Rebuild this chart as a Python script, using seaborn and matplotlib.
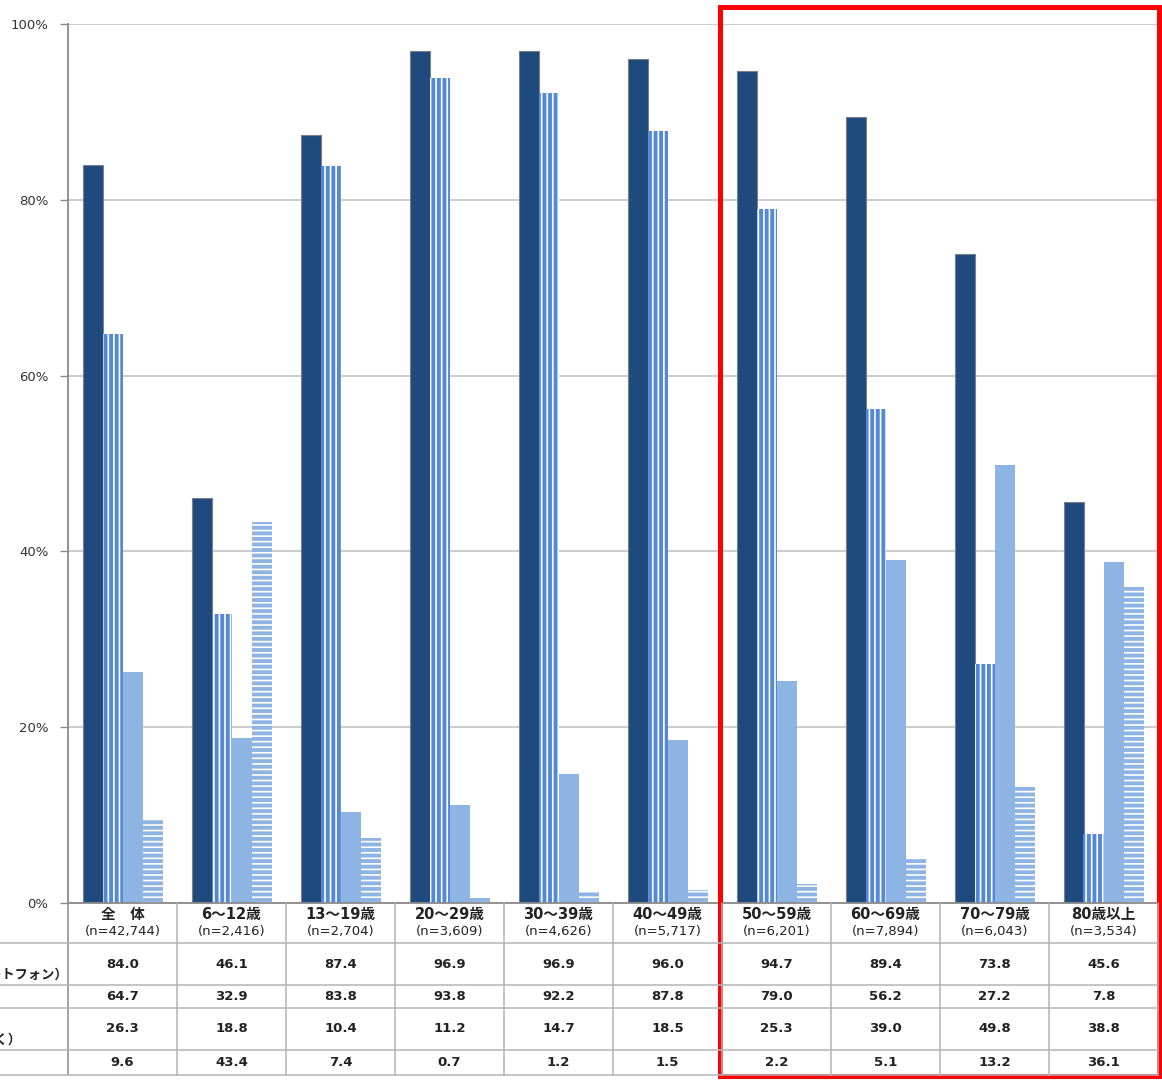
import numpy as np
import pandas as pd
import matplotlib
matplotlib.use("Agg")
import matplotlib.pyplot as plt
import seaborn as sns
from matplotlib.lines import Line2D
from matplotlib.patches import Rectangle
from matplotlib.transforms import blended_transform_factory

# ---- data -------------------------------------------------------------
groups = ["全　体", "6～12歳", "13～19歳", "20～29歳", "30～39歳",
          "40～49歳", "50～59歳", "60～69歳", "70～79歳", "80歳以上"]
sample_n = ["(n=42,744)", "(n=2,416)", "(n=2,704)", "(n=3,609)", "(n=4,626)",
            "(n=5,717)", "(n=6,201)", "(n=7,894)", "(n=6,043)", "(n=3,534)"]
series = ["モバイル端末全体ス\n（携帯電話・ＰＨＳ及びスマートフォン）",
          "スマートフォン",
          "携帯電話・ＰＨＳ\n（スマートフォンを除く）",
          "保有していない"]
mobile_total = [84.0, 46.1, 87.4, 96.9, 96.9, 96.0, 94.7, 89.4, 73.8, 45.6]
smartphone = [64.7, 32.9, 83.8, 93.8, 92.2, 87.8, 79.0, 56.2, 27.2, 7.8]
feature_phone = [26.3, 18.8, 10.4, 11.2, 14.7, 18.5, 25.3, 39.0, 49.8, 38.8]
none_owned = [9.6, 43.4, 7.4, 0.7, 1.2, 1.5, 2.2, 5.1, 13.2, 36.1]
yticks = [0, 20, 40, 60, 80, 100]

values = [mobile_total, smartphone, feature_phone, none_owned]
df = pd.DataFrame({
    "group": np.repeat([groups], len(series), axis=0).ravel(),
    "series": np.repeat(series, len(groups)),
    "value": np.concatenate(values),
})

# ---- style ------------------------------------------------------------
sns.set_theme(style="white")
plt.rcParams["font.family"] = ["Noto Sans CJK JP", "DejaVu Sans"]
plt.rcParams["hatch.linewidth"] = 1.2

num_font = ["DejaVu Sans", "Noto Sans CJK JP"]

navy = "#1f4a7e"
mid_blue = "#5588d6"
light_blue = "#8db4e3"
palette = [navy, mid_blue, light_blue, light_blue]
grid_gray = "#c8c8c8"
line_gray = "#b4b4b4"
text_col = "#222222"

W, H = 1162, 1082
fig = plt.figure(figsize=(W / 100, H / 100), dpi=100)
ax = fig.add_axes([68 / W, 1 - 903 / H, (1158 - 68) / W, (903 - 24) / H])

sns.barplot(data=df, x="group", y="value", hue="series", order=groups,
            hue_order=series, palette=palette, saturation=1,
            width=80 / 109, gap=0, legend=False, ax=ax)

# bar styling per series: solid / vertical stripes / solid / horizontal stripes
for k, cont in enumerate(ax.containers):
    for p in cont.patches:
        if k == 0:
            p.set_facecolor(navy)
            p.set_edgecolor("#7a7f88")
            p.set_linewidth(0.8)
        elif k == 1:
            p.set_facecolor(mid_blue)
            p.set_edgecolor("white")
            p.set_hatch("|||")
            p.set_linewidth(0)
        elif k == 2:
            p.set_facecolor(light_blue)
            p.set_edgecolor(light_blue)
            p.set_linewidth(0)
        else:
            p.set_facecolor(light_blue)
            p.set_edgecolor("white")
            p.set_hatch("---")
            p.set_linewidth(0)

ax.set_xlim(-0.5, len(groups) - 0.5)
ax.set_ylim(0, 100)
ax.set_xticks([])
ax.set_yticks(yticks)
ax.set_yticklabels([f"{v}%" for v in yticks], family=num_font)
ax.set_xlabel("")
ax.set_ylabel("")
ax.yaxis.grid(True, color=grid_gray, lw=1.3)
ax.set_axisbelow(True)
ax.tick_params(axis="y", left=True, length=6, width=1, color="#8a8a8a",
               labelsize=9.5, labelcolor="#333333", pad=8)
for side in ["top", "right"]:
    ax.spines[side].set_visible(False)
for side in ["left", "bottom"]:
    ax.spines[side].set_color("#8a8a8a")
    ax.spines[side].set_linewidth(1.3)

# ---- data table under the chart --------------------------------------
def fy(py):
    return 1 - py / H

trans = blended_transform_factory(ax.transData, fig.transFigure)

for b in np.arange(-0.5, len(groups), 1.0):
    fig.add_artist(Line2D([b, b], [fy(903), fy(1075)], transform=trans,
                          color=line_gray if b > -0.5 else "#8a8a8a", lw=1.1))
for py in [943, 985, 1008, 1050, 1075]:
    fig.add_artist(Line2D([0, 1158 / W], [fy(py), fy(py)],
                          transform=fig.transFigure, color=line_gray, lw=1.1))

for i, (g, n) in enumerate(zip(groups, sample_n)):
    ax.text(i, fy(914), g, transform=trans, ha="center", va="center",
            fontsize=10.5, weight="bold", color=text_col, family=num_font)
    ax.text(i, fy(932), n, transform=trans, ha="center", va="center",
            fontsize=9.5, color=text_col, family=num_font)

row_centers = [964, 996.5, 1029, 1062.5]
for vals, py in zip(values, row_centers):
    for i, v in enumerate(vals):
        ax.text(i, fy(py), f"{v:.1f}", transform=trans, ha="center",
                va="center", fontsize=9.5, weight="bold", color=text_col,
                family=num_font)

# row headers in the column left of the table
for name, py in zip(series, row_centers):
    fig.text(-58 / W, fy(py), name, ha="center", va="center",
             multialignment="center", fontsize=9.5, weight="bold",
             color=text_col, linespacing=1.6)

# highlight frame around the older age groups
fig.add_artist(Rectangle((720 / W, fy(1076)), (1159 - 720) / W, (1076 - 7) / H,
                         transform=fig.transFigure, fill=False,
                         edgecolor="#ff0000", lw=3.6))

fig.savefig("out.png", dpi=100)
